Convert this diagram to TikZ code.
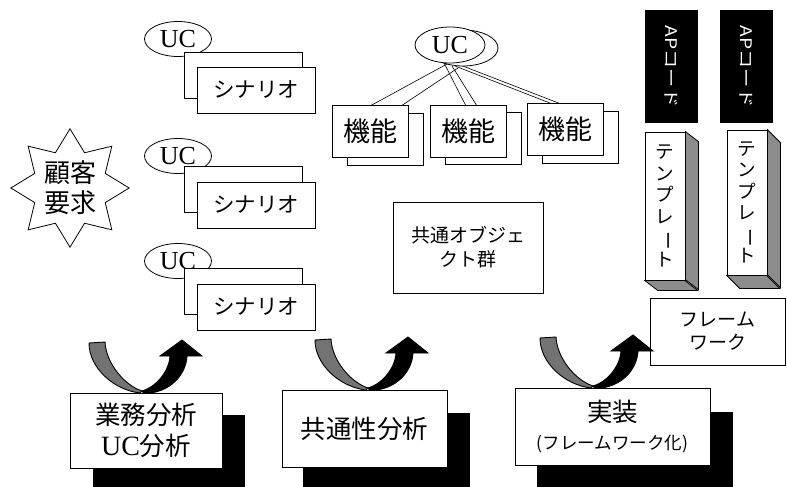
\documentclass[tikz,border=0pt]{standalone}
\usepackage{fontspec}
\usepackage{graphicx}
\setmainfont{Liberation Serif}
\newfontfamily\jp{Noto Sans CJK JP}
\usetikzlibrary{shapes.geometric}
\tikzset{
  lw/.style={line width=0.8pt},
  card/.style={draw, lw, fill=white, inner sep=0pt},
  ucnode/.style={draw, lw, fill=white, ellipse, inner sep=0pt, minimum width=67pt, minimum height=35pt, font=\fontsize{26}{28}\selectfont},
  scard/.style={card, minimum width=118pt, minimum height=46pt, font=\jp\fontsize{21.5}{24}\selectfont},
  fcard/.style={card, minimum width=76pt, minimum height=52pt, font=\jp\fontsize{27}{30}\selectfont},
  bigbox/.style={card, align=center, font=\jp\fontsize{25.5}{31}\selectfont},
  tmpl/.style={card, minimum width=40pt, align=center, font=\jp\fontsize{18.5}{21.5}\selectfont},
  apbox/.style={fill=black, inner sep=0pt, minimum width=53pt, minimum height=113pt},
  sidefill/.style={fill=black!45, draw, lw},
  conn/.style={line width=0.6pt},
  twistarrow/.pic={
    \filldraw[fill=black!55, line width=0.9pt]
      (-53,-50) -- (-37,-51) .. controls (-36,-30) and (-18,-8) .. (0,-2)
      -- (-2,0) .. controls (-28,-3) and (-53,-25) .. (-53,-50) -- cycle;
    \filldraw[line width=0.9pt]
      (0,-2) .. controls (12,-5) and (27,-20) .. (28,-37) -- (18,-37) -- (40,-53)
      -- (60,-37) -- (45,-37) .. controls (44,-18) and (28,0) .. (2,0.5) -- cycle;
  }
}
\begin{document}
\begin{tikzpicture}[x=1pt,y=-1pt]
\useasboundingbox (0,0) rectangle (787,487);

% ---------- star ----------
\node[draw, lw, star, star points=8, star point ratio=1.55, minimum size=118pt, inner sep=0pt,
      align=center, font=\jp\fontsize{26}{30}\selectfont] (star) at (70,188) {顧客\\要求};

% ---------- UC / scenario groups ----------
\node[ucnode] (uc1) at (178,39) {UC};
\node[scard] (sb1) at (243,75) {};
\node[scard] (sf1) at (256,90) {シナリオ};

\node[ucnode] (uc2) at (178,156) {UC};
\node[scard] (sb2) at (243,189) {};
\node[scard] (sf2) at (256,205) {シナリオ};

\node[ucnode] (uc3) at (178,261) {UC};
\node[scard] (sb3) at (243,291) {};
\node[scard] (sf3) at (256,307) {シナリオ};

% ---------- connectors from top UC ----------
\coordinate (s1a) at (447,64); \coordinate (e1a) at (370,106);
\coordinate (s1b) at (458,68); \coordinate (e1b) at (401,106);
\coordinate (s2a) at (444,63); \coordinate (e2a) at (466,106);
\coordinate (s2b) at (452,66); \coordinate (e2b) at (477,106);
\coordinate (s3a) at (455,63); \coordinate (e3a) at (561,104);
\coordinate (s3b) at (455,66); \coordinate (e3b) at (560,107);
\draw[conn] (s1a) -- (e1a);
\draw[conn] (s1b) -- (e1b);
\draw[conn] (s2a) -- (e2a);
\draw[conn] (s2b) -- (e2b);
\draw[conn] (s3a) -- (e3a);
\draw[conn] (s3b) -- (e3b);

\node[ucnode, minimum width=70pt, minimum height=36pt] (ucb) at (463,48) {};
\node[ucnode, minimum width=70pt, minimum height=36pt] (uct) at (450,45) {UC};

% ---------- function cards ----------
\node[fcard] (fb1) at (385,139) {};
\node[fcard] (ff1) at (370.5,131) {機能};
\node[fcard] (fb2) at (483.5,138) {};
\node[fcard] (ff2) at (468.5,131) {機能};
\node[fcard] (fb3) at (580,137.5) {};
\node[fcard] (ff3) at (565.5,129.5) {機能};

% ---------- common objects ----------
\node[card, minimum width=150pt, minimum height=91pt, align=center,
      font=\jp\fontsize{19}{24}\selectfont] (common) at (468,247.5) {共通オブジェ\\クト群};

% ---------- AP code ----------
\node[apbox] (ap1) at (671.5,66.5) {};
\node[apbox] (ap2) at (746.5,66.5) {};
\node[rotate=-90, text=white, font=\jp\fontsize{16}{18}\selectfont] (apt1) at (ap1.center) {\scalebox{1.2}[1]{APコード}};
\node[rotate=-90, text=white, font=\jp\fontsize{16}{18}\selectfont] (apt2) at (ap2.center) {\scalebox{1.2}[1]{APコード}};

% ---------- templates ----------
\node[tmpl, minimum height=148pt] (tp1) at (665,206)
  {テ\\ン\\プ\\レ\\\rotatebox[origin=c]{-90}{ー}\\ト};
\filldraw[sidefill] (tp1.north east) -- ++(13,10) -- ++(0,148) -- ++(-13,-10) -- cycle;
\filldraw[sidefill] (tp1.south west) -- ++(13,10) -- ++(40,0) -- ++(-13,-10) -- cycle;

\node[tmpl, minimum height=145pt] (tp2) at (747,202.5)
  {テ\\ン\\プ\\レ\\\rotatebox[origin=c]{-90}{ー}\\ト};
\filldraw[sidefill] (tp2.north east) -- ++(13,13) -- ++(0,145) -- ++(-13,-13) -- cycle;
\filldraw[sidefill] (tp2.south west) -- ++(13,13) -- ++(40,0) -- ++(-13,-13) -- cycle;

% ---------- framework ----------
\node[card, minimum width=135pt, minimum height=67pt, align=center,
      font=\jp\fontsize{19}{23}\selectfont] (fw) at (717.5,331.5) {フレーム\\ワーク};

% ---------- bottom process boxes ----------
\fill (93,415) rectangle (245,495);
\node[bigbox, minimum width=152pt, minimum height=75pt] (b1) at (146,430.5)
  {業務分析\\{\rmfamily\fontsize{28}{31}\selectfont UC}分析};

\fill (303,413) rectangle (470,495);
\node[bigbox, minimum width=165pt, minimum height=77pt] (b2) at (364.5,428.5) {共通性分析};

\fill (537,412) rectangle (733,495);
\node[card, minimum width=195pt, minimum height=77pt, align=center,
      font=\jp\fontsize{25.5}{28}\selectfont] (b3) at (612.5,426.5)
  {実装\\{\fontsize{17.5}{20}\selectfont (フレームワーク化)}};

% ---------- twisted arrows ----------
\pic (ar1) at (142,393) {twistarrow};
\pic (ar2) at (368,390) {twistarrow};
\pic (ar3) at (593,388) {twistarrow};

\end{tikzpicture}
\end{document}
